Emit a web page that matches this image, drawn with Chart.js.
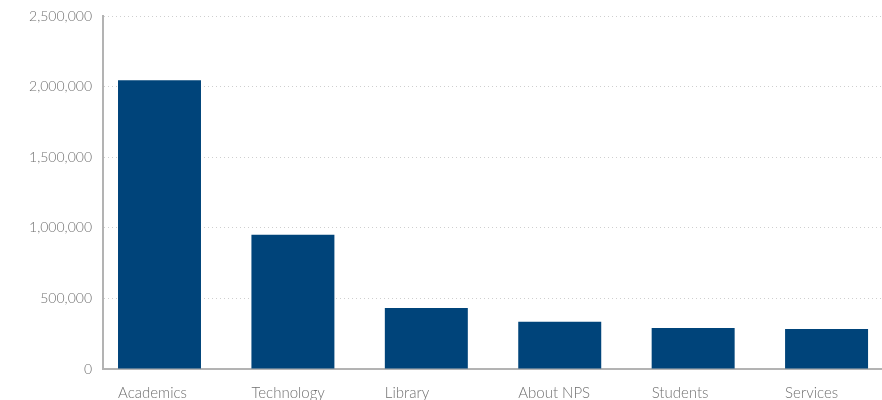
<!DOCTYPE html>
<html>
<head>
<meta charset="utf-8">
<script src="https://cdn.jsdelivr.net/npm/chart.js@4"></script>
<style>
html,body{margin:0;padding:0;background:#fff;}
#wrap{width:882px;height:400px;}
</style>
</head>
<body>
<div id="wrap"><canvas id="c" width="882" height="400"></canvas></div>
<script>
const categories = ["Academics", "Technology", "Library", "About NPS", "Students", "Services"];
const pageViews = [2045000, 950000, 432000, 334000, 290000, 283000];
const yTicks = [0, 500000, 1000000, 1500000, 2000000, 2500000];

const points = categories.map((c, i) => ({x: i, y: pageViews[i]}));
const fmt = v => v.toLocaleString('en-US');

new Chart(document.getElementById('c'), {
  type: 'bar',
  data: {
    datasets: [{
      data: points,
      backgroundColor: '#00447a',
      borderWidth: 0,
      categoryPercentage: 1,
      barPercentage: 0.622
    }]
  },
  options: {
    responsive: false,
    animation: false,
    layout: {padding: {top: 16, right: 1, left: 0, bottom: 0}},
    plugins: {legend: {display: false}, tooltip: {enabled: false}},
    scales: {
      x: {
        type: 'linear',
        offset: false,
        min: -0.4235,
        max: 5.408,
        grid: {display: false, drawTicks: false, tickLength: 0},
        border: {color: '#b3b3b3', width: 2},
        afterBuildTicks: axis => {
          axis.ticks = categories.map((c, i) => ({value: i}));
        },
        afterFit: s => { s.height = 31; s.paddingRight = 0; s.paddingLeft = 0; },
        ticks: {
          autoSkip: false,
          maxRotation: 0,
          align: 'start',
          labelOffset: -41.5,
          padding: 15,
          color: '#707070',
          font: {family: 'Lato', size: 15, weight: '300'},
          callback: v => categories[v] ?? ''
        }
      },
      y: {
        min: 0,
        max: 2500000,
        afterBuildTicks: axis => {
          axis.ticks = yTicks.map(v => ({value: v}));
        },
        afterFit: s => { s.width = 103; s.paddingTop = 0; s.paddingBottom = 0; },
        grid: {color: '#cfcfcf', lineWidth: 1, drawTicks: false, tickLength: 0},
        border: {color: '#b3b3b3', width: 2, dash: [1, 3]},
        ticks: {
          padding: 11,
          color: '#707070',
          font: {family: 'Lato', size: 14, weight: '300'},
          callback: v => fmt(v)
        }
      }
    }
  }
});
</script>
</body>
</html>
